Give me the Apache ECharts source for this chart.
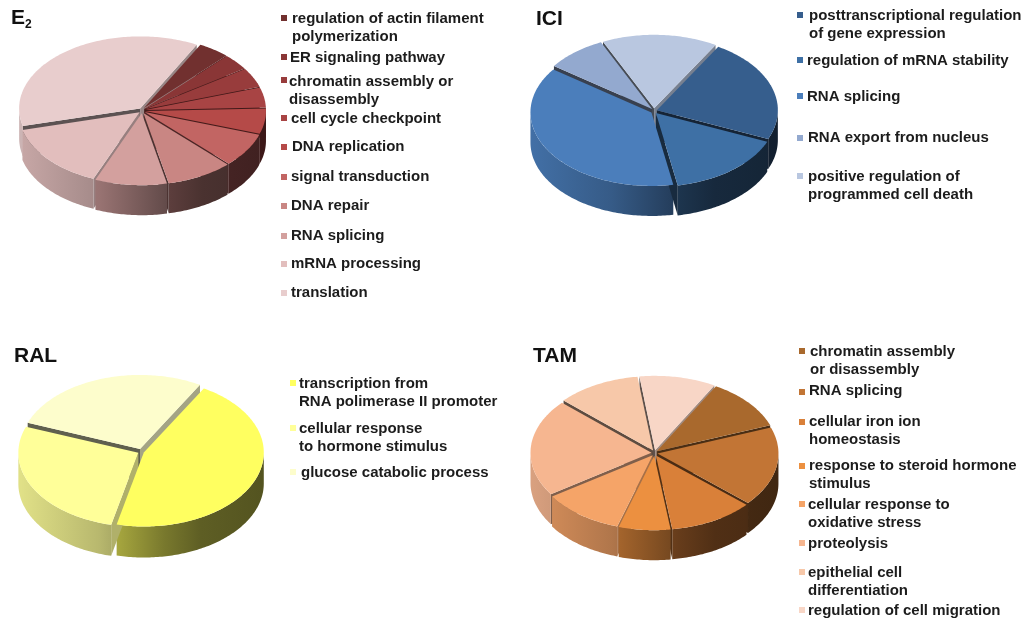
<!DOCTYPE html>
<html>
<head>
<meta charset="utf-8">
<style>html,body{margin:0;padding:0;background:#fff}#chart{width:1026px;height:620px}</style>
<script src="https://cdn.jsdelivr.net/npm/echarts@6/dist/echarts.min.js"></script>
</head>
<body>
<div id="chart"></div>
<script>
// Gene-ontology term shares per treatment (percent of annotated terms)
const e2Terms = ['regulation of actin filament\npolymerization', 'ER signaling pathway', 'chromatin assembly or\ndisassembly', 'cell cycle checkpoint', 'DNA replication', 'signal transduction', 'DNA repair', 'RNA splicing', 'mRNA processing', 'translation'];
const e2Values = [4.2, 3.6, 4.4, 4.5, 5.7, 7.6, 8.9, 9.6, 14.8, 36.7];

const iciTerms = ['posttranscriptional regulation\nof gene expression', 'regulation of mRNA stability', 'RNA splicing', 'RNA export from nucleus', 'positive regulation of\nprogrammed cell death'];
const iciValues = [22.9, 15.7, 37.8, 8.1, 15.4];

const ralTerms = ['transcription from\nRNA polimerase II promoter', 'cellular response\nto hormone stimulus', 'glucose catabolic process'];
const ralValues = [45.3, 27.1, 27.6];

const tamTerms = ['chromatin assembly\nor disassembly', 'RNA splicing', 'cellular iron ion\nhomeostasis', 'response to steroid hormone\nstimulus', 'cellular response to\noxidative stress', 'proteolysis', 'epithelial cell\ndifferentiation', 'regulation of cell migration'];
const tamValues = [11.2, 17.2, 11.3, 6.9, 10.9, 21.1, 11.2, 10.2];

// Slice colours
const e2Colors = ['#71302f', '#8a3636', '#983c3c', '#a84444', '#b54a48', '#c26563', '#c98683', '#d3a09e', '#e2bebd', '#e8cdcd'];
const iciColors = ['#365e8d', '#3e70a5', '#4b7ebb', '#93a9cf', '#b9c7e0'];
const ralColors = ['#ffff60', '#ffff99', '#fdfdcc'];
const tamColors = ['#a9692d', '#c27535', '#d98039', '#ec9040', '#f5a468', '#f6b690', '#f7c8a9', '#f8d6c6'];

// Placement of each panel: disc geometry, then [text x, first line y] and marker x for the key
const panels = [
  { name: 'E2', terms: e2Terms, values: e2Values, colors: e2Colors, start: 27.9,
    cx: 142, cy: 110.5, rx: 121, ry: 72, depth: 30, explode: 3, markerX: 281,
    text: [[292,18],[290,57],[289,81],[291,118],[292,146.5],[291,176],[291,205.5],[291,235],[291,263],[291,292]],
    marker: [18,57,80,118,147,177,206,236,264,293] },
  { name: 'ICI', terms: iciTerms, values: iciValues, colors: iciColors, start: 30.5,
    cx: 654, cy: 111, rx: 121, ry: 73.5, depth: 30, explode: 3, markerX: 797,
    text: [[809,15],[807,60],[807,96],[808,137],[808,176]],
    marker: [15,60,96,138,176] },
  { name: 'RAL', terms: ralTerms, values: ralValues, colors: ralColors, start: 30,
    cx: 141, cy: 451.5, rx: 120, ry: 74, depth: 31, explode: 3, markerX: 290,
    text: [[299,383],[299,428],[301,472]],
    marker: [383,428,472] },
  { name: 'TAM', terms: tamTerms, values: tamValues, colors: tamColors, start: 29.3,
    cx: 654.5, cy: 453, rx: 121, ry: 74.5, depth: 30, explode: 3, markerX: 799,
    text: [[810,351.5],[809,390],[809,421.5],[809,465],[808,504],[808,543],[808,572],[808,610]],
    marker: [351,392,422,466,504,543,572,610] }
];

const RAD = Math.PI / 180;
const FONT = 'bold 15px "Liberation Sans", Arial, sans-serif';
const TITLE_FONT = 'bold 21px "Liberation Sans", Arial, sans-serif';

// Brightness of the rim as it turns away from the light on the left
const rimShade = [[-1, 0.88], [-0.35, 0.72], [0.2, 0.47], [0.5, 0.37], [1, 0.33]];

function tint(hex, f) {
  const n = parseInt(hex.slice(1), 16);
  const c = [n >> 16, (n >> 8) & 255, n & 255].map(v => Math.round(v * f));
  return 'rgb(' + c.join(',') + ')';
}

// Angular extent of every slice, clockwise from the panel's start angle
function sliceGeometry(p) {
  const total = p.values.reduce((a, b) => a + b, 0);
  let a = p.start;
  return p.values.map(v => {
    const span = v / total * 360;
    const s = { a0: a, a1: a + span, mid: a + span / 2 };
    s.dx = p.explode * Math.sin(s.mid * RAD);
    s.dy = -p.explode * 0.9 * Math.cos(s.mid * RAD);
    a += span;
    return s;
  });
}

function rimPoint(p, s, deg, drop) {
  return [
    p.cx + s.dx + p.rx * Math.sin(deg * RAD),
    p.cy + s.dy + p.ry * -Math.cos(deg * RAD) + drop
  ];
}

function arc(p, s, from, to, drop) {
  const pts = [];
  const steps = Math.max(2, Math.ceil(Math.abs(to - from)));
  for (let i = 0; i <= steps; i++) pts.push(rimPoint(p, s, from + (to - from) * i / steps, drop));
  return pts;
}

// Radial face exposed where neighbouring slices pull apart
function radialFace(p, s, deg, sign, color) {
  const nx = sign * Math.cos(deg * RAD);
  const ny = sign * Math.sin(deg * RAD);
  if (ny <= 0) return null;
  const f = Math.max(0.38, 0.3 + 0.4 * nx);
  const c = [p.cx + s.dx, p.cy + s.dy];
  return {
    type: 'polygon',
    shape: { points: [c, rimPoint(p, s, deg, 0), rimPoint(p, s, deg, p.depth), [c[0], c[1] + p.depth]] },
    style: { fill: tint(color, f) }
  };
}

// Outer rim of a slice, only over the front half of the disc
function rimFace(p, s, color) {
  const parts = [];
  [[90, 270], [450, 630]].forEach(([lo, hi]) => {
    const from = Math.max(s.a0, lo), to = Math.min(s.a1, hi);
    if (to <= from) return;
    const top = arc(p, s, from, to, 0);
    const bottom = arc(p, s, to, from, p.depth);
    parts.push({
      type: 'polygon',
      shape: { points: top.concat(bottom) },
      style: {
        fill: {
          type: 'linear', global: true,
          x: p.cx - p.rx, y: 0, x2: p.cx + p.rx, y2: 0,
          colorStops: rimShade.map(([t, f]) => ({ offset: (t + 1) / 2, color: tint(color, f) }))
        }
      }
    });
  });
  return parts;
}

function wallSeries(p, geo) {
  // back slices first so nearer walls paint over them
  const order = geo.map((s, i) => i).sort((a, b) => -Math.cos(geo[a].mid * RAD) + Math.cos(geo[b].mid * RAD));
  return {
    type: 'custom', name: p.name + ' walls', coordinateSystem: 'none', silent: true, animation: false,
    data: order.map(i => [i, p.values[i]]),
    renderItem(params, api) {
      const i = api.value(0), s = geo[i], color = p.colors[i];
      const children = [radialFace(p, s, s.a0, -1, color), radialFace(p, s, s.a1, 1, color)]
        .filter(Boolean).concat(rimFace(p, s, color));
      return { type: 'group', children };
    }
  };
}

function topSeries(p, geo) {
  return {
    type: 'custom', name: p.name, coordinateSystem: 'none', silent: true, animation: false,
    data: p.values.map((v, i) => [i, v]),
    renderItem(params, api) {
      const i = api.value(0), s = geo[i];
      return {
        type: 'polygon',
        shape: { points: [[p.cx + s.dx, p.cy + s.dy]].concat(arc(p, s, s.a0, s.a1, 0)) },
        style: { fill: p.colors[i] }
      };
    }
  };
}

// Key entries: small square marker plus the term text
function keyElements(p) {
  const out = [];
  p.terms.forEach((term, i) => {
    out.push({ type: 'rect', silent: true,
      shape: { x: p.markerX, y: p.marker[i] - 3, width: 6, height: 6 },
      style: { fill: p.colors[i] } });
    out.push({ type: 'text', silent: true, x: p.text[i][0], y: p.text[i][1] - 8.5,
      style: { text: term, font: FONT, fill: '#1c1c1c', lineHeight: 18, verticalAlign: 'top', align: 'left' } });
  });
  return out;
}

const titles = [
  { type: 'text', silent: true, x: 11, y: 8, style: { text: 'E', font: TITLE_FONT, fill: '#111' } },
  { type: 'text', silent: true, x: 25, y: 19, style: { text: '2', font: 'bold 12px "Liberation Sans", Arial, sans-serif', fill: '#111' } },
  { type: 'text', silent: true, x: 536, y: 9, style: { text: 'ICI', font: TITLE_FONT, fill: '#111' } },
  { type: 'text', silent: true, x: 14, y: 346, style: { text: 'RAL', font: TITLE_FONT, fill: '#111' } },
  { type: 'text', silent: true, x: 533, y: 346, style: { text: 'TAM', font: TITLE_FONT, fill: '#111' } }
];

const series = [];
const graphics = titles.slice();
panels.forEach(p => {
  const geo = sliceGeometry(p);
  series.push(wallSeries(p, geo), topSeries(p, geo));
  graphics.push(...keyElements(p));
});

const chart = echarts.init(document.getElementById('chart'), null, { renderer: 'canvas' });
chart.setOption({
  backgroundColor: '#fff',
  animation: false,
  series,
  graphic: graphics
});
</script>
</body>
</html>
